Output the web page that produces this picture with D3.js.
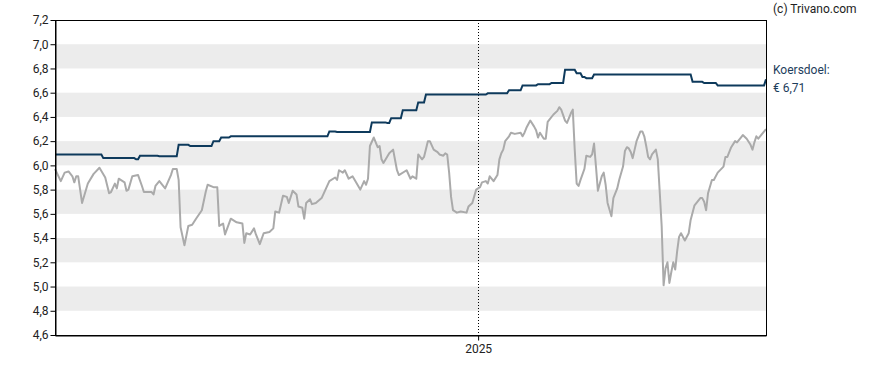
<!DOCTYPE html>
<html>
<head>
<meta charset="utf-8">
<script src="https://cdn.jsdelivr.net/npm/d3@7"></script>
<style>
  body { margin: 0; background: #fff; }
  text { font-family: Roboto, "Liberation Sans", Arial, sans-serif; }
</style>
</head>
<body>
<div id="chart"></div>
<script>
// Koers (grey line)
var priceDates = [
  "2024-05-27","2024-05-30","2024-06-01","2024-06-03","2024-06-05","2024-06-06","2024-06-07","2024-06-08",
  "2024-06-10","2024-06-13","2024-06-16","2024-06-19","2024-06-22","2024-06-24","2024-06-25","2024-06-27",
  "2024-06-28","2024-06-29","2024-07-02","2024-07-03","2024-07-04","2024-07-06","2024-07-09","2024-07-11",
  "2024-07-12","2024-07-16","2024-07-17","2024-07-18","2024-07-20","2024-07-23","2024-07-26","2024-07-27",
  "2024-07-29","2024-07-30","2024-07-31","2024-08-02","2024-08-04","2024-08-06","2024-08-08","2024-08-11",
  "2024-08-13","2024-08-14","2024-08-17","2024-08-19","2024-08-20","2024-08-22","2024-08-23","2024-08-26",
  "2024-08-28","2024-08-29","2024-09-01","2024-09-02","2024-09-03","2024-09-05","2024-09-07","2024-09-08",
  "2024-09-10","2024-09-12","2024-09-15","2024-09-17","2024-09-18","2024-09-20","2024-09-22","2024-09-24",
  "2024-09-25","2024-09-27","2024-09-29","2024-09-30","2024-10-02","2024-10-03","2024-10-04","2024-10-06",
  "2024-10-07","2024-10-09","2024-10-12","2024-10-14","2024-10-16","2024-10-19","2024-10-20","2024-10-21",
  "2024-10-23","2024-10-24","2024-10-26","2024-10-28","2024-11-01","2024-11-03","2024-11-04","2024-11-05",
  "2024-11-06","2024-11-08","2024-11-10","2024-11-11","2024-11-12","2024-11-13","2024-11-16","2024-11-18",
  "2024-11-20","2024-11-21","2024-11-25","2024-11-27","2024-11-28","2024-11-30","2024-12-01","2024-12-03",
  "2024-12-04","2024-12-06","2024-12-07","2024-12-09","2024-12-11","2024-12-12","2024-12-14","2024-12-15",
  "2024-12-16","2024-12-17","2024-12-18","2024-12-19","2024-12-20","2024-12-21","2024-12-23","2024-12-26",
  "2024-12-27","2024-12-29","2024-12-31","2025-01-02","2025-01-03","2025-01-05","2025-01-06","2025-01-07",
  "2025-01-09","2025-01-11","2025-01-12","2025-01-13","2025-01-14","2025-01-15","2025-01-17","2025-01-18",
  "2025-01-20","2025-01-23","2025-01-24","2025-01-25","2025-01-26","2025-01-28","2025-01-30","2025-01-31",
  "2025-02-01","2025-02-02","2025-02-04","2025-02-05","2025-02-06","2025-02-07","2025-02-09","2025-02-11",
  "2025-02-12","2025-02-13","2025-02-15","2025-02-16","2025-02-18","2025-02-19","2025-02-20","2025-02-21",
  "2025-02-22","2025-02-23","2025-02-25","2025-02-26","2025-02-28","2025-03-01","2025-03-02","2025-03-03",
  "2025-03-04","2025-03-06","2025-03-07","2025-03-08","2025-03-09","2025-03-11","2025-03-12","2025-03-14",
  "2025-03-15","2025-03-17","2025-03-18","2025-03-19","2025-03-20","2025-03-21","2025-03-22","2025-03-23",
  "2025-03-24","2025-03-26","2025-03-27","2025-03-28","2025-03-29","2025-03-30","2025-03-31","2025-04-01",
  "2025-04-03","2025-04-04","2025-04-05","2025-04-06","2025-04-07","2025-04-08","2025-04-09","2025-04-10",
  "2025-04-11","2025-04-12","2025-04-13","2025-04-14","2025-04-15","2025-04-16","2025-04-18","2025-04-20",
  "2025-04-21","2025-04-23","2025-04-26","2025-04-27","2025-04-28","2025-04-29","2025-04-30","2025-05-02",
  "2025-05-03","2025-05-05","2025-05-08","2025-05-09","2025-05-10","2025-05-12","2025-05-14","2025-05-15",
  "2025-05-17","2025-05-18","2025-05-20","2025-05-22","2025-05-23","2025-05-24","2025-05-25","2025-05-26",
  "2025-05-28","2025-05-30"
];
var priceValues = [
  5.97,5.87,5.94,5.95,5.91,5.86,5.91,5.91,
  5.69,5.85,5.93,5.98,5.90,5.77,5.78,5.85,
  5.81,5.89,5.86,5.79,5.80,5.91,5.92,5.83,
  5.78,5.78,5.76,5.83,5.87,5.81,5.92,5.97,
  5.97,5.88,5.49,5.34,5.50,5.51,5.56,5.63,
  5.78,5.84,5.82,5.82,5.50,5.52,5.43,5.56,
  5.54,5.53,5.52,5.36,5.44,5.43,5.48,5.43,
  5.35,5.44,5.45,5.48,5.62,5.61,5.75,5.74,
  5.69,5.79,5.76,5.66,5.65,5.56,5.69,5.72,
  5.68,5.69,5.73,5.80,5.87,5.90,5.88,5.96,
  5.94,5.96,5.89,5.91,5.80,5.87,5.84,5.89,
  6.16,6.23,6.15,6.16,6.05,6.02,6.10,6.13,
  5.96,5.92,5.96,5.89,5.91,5.89,6.09,6.05,
  6.07,6.20,6.20,6.13,6.11,6.09,6.08,6.10,
  6.09,5.94,5.74,5.63,5.62,5.61,5.62,5.61,
  5.66,5.69,5.80,5.82,5.86,5.87,5.85,5.91,
  5.87,5.92,6.05,6.10,6.13,6.20,6.24,6.27,
  6.26,6.27,6.24,6.27,6.31,6.37,6.32,6.29,
  6.23,6.27,6.22,6.22,6.36,6.38,6.42,6.45,
  6.48,6.46,6.37,6.35,6.43,6.46,6.13,5.85,
  5.83,5.88,5.97,6.08,6.07,6.09,6.18,5.99,
  5.79,5.91,5.94,5.84,5.69,5.58,5.73,5.81,
  5.88,5.99,6.12,6.15,6.14,6.11,6.06,6.13,
  6.20,6.28,6.28,6.24,6.16,6.07,6.05,6.09,
  6.13,6.05,5.78,5.50,5.01,5.15,5.20,5.03,
  5.12,5.20,5.14,5.29,5.41,5.44,5.38,5.44,
  5.55,5.67,5.73,5.73,5.70,5.63,5.77,5.88,
  5.88,5.94,5.99,6.07,6.07,6.15,6.20,6.19,
  6.23,6.25,6.22,6.17,6.13,6.19,6.24,6.22,
  6.26,6.30
];

// Koersdoel (blue line): date of each change and new level
var targetDates = [
  "2024-05-27","2024-06-21","2024-07-08","2024-07-10","2024-07-20","2024-07-30","2024-08-05","2024-08-17",
  "2024-08-21","2024-08-26","2024-10-16","2024-10-20","2024-11-07","2024-11-15","2024-11-17","2024-11-23",
  "2024-12-01","2024-12-05","2025-01-06","2025-01-17","2025-01-24","2025-02-01","2025-02-08","2025-02-15",
  "2025-02-21","2025-02-24","2025-02-26","2025-03-02","2025-04-22","2025-04-28","2025-05-05","2025-05-30"
];
var targetValues = [
  6.09,6.06,6.05,6.08,6.075,6.17,6.16,6.20,
  6.23,6.24,6.28,6.275,6.355,6.35,6.39,6.455,
  6.52,6.585,6.595,6.62,6.66,6.67,6.68,6.79,
  6.76,6.73,6.72,6.75,6.69,6.68,6.66,6.71
];

// Axis values and labels
var yTicks = [4.6, 4.8, 5.0, 5.2, 5.4, 5.6, 5.8, 6.0, 6.2, 6.4, 6.6, 6.8, 7.0, 7.2];
var xTickDates = ["2025-01-01"];
var xTickLabels = ["2025"];
var periodStart = "2024-05-27";
var periodEnd = "2025-05-30";
var copyrightText = "(c) Trivano.com";
var targetLabel = "Koersdoel:";

// SVG area and margins
var svgWidth = 888;
var svgHeight = 370;
var chartMargin = { top: 20, right: 122, bottom: 35, left: 55 };
var chartWidth = svgWidth - chartMargin.left - chartMargin.right;
var chartHeight = svgHeight - chartMargin.top - chartMargin.bottom;

var parseDate = d3.timeParse("%Y-%m-%d");
var nl = d3.formatLocale({ decimal: ",", thousands: ".", grouping: [3], currency: ["€ ", ""] });
var fmtTick = nl.format(".1f");

var svg = d3.select("#chart")
    .append("svg")
    .attr("width", svgWidth)
    .attr("height", svgHeight);

var chartGroup = svg.append("g")
    .attr("transform", `translate(${chartMargin.left}, ${chartMargin.top})`);

var xTimeScale = d3.scaleTime()
    .domain([parseDate(periodStart), parseDate(periodEnd)])
    .range([0, chartWidth]);

var yLinearScale = d3.scaleLinear()
    .domain([yTicks[0], yTicks[yTicks.length - 1]])
    .range([chartHeight, 0]);

// Alternating grey bands
var bands = yTicks.filter((t, i) => i % 2 == 1 && i < yTicks.length - 1)
    .map(t => [t, t + 0.2]);

chartGroup.selectAll("rect.band")
    .data(bands)
    .enter()
    .append("rect")
    .attr("class", "band")
    .attr("x", 0)
    .attr("width", chartWidth)
    .attr("y", d => yLinearScale(d[1]))
    .attr("height", d => yLinearScale(d[0]) - yLinearScale(d[1]))
    .attr("fill", "#ececec");

// Year divider (dotted)
chartGroup.selectAll("line.year")
    .data(xTickDates)
    .enter()
    .append("line")
    .attr("class", "year")
    .attr("x1", d => Math.round(xTimeScale(parseDate(d))) + 0.5)
    .attr("x2", d => Math.round(xTimeScale(parseDate(d))) + 0.5)
    .attr("y1", 0)
    .attr("y2", chartHeight)
    .attr("stroke", "#000")
    .attr("stroke-width", 1)
    .attr("stroke-dasharray", "1,2");

// Price line
var priceData = priceDates.map((d, i) => ({ date: parseDate(d), value: priceValues[i] }));
var priceLine = d3.line()
    .x(d => xTimeScale(d.date))
    .y(d => yLinearScale(d.value));

chartGroup.append("path")
    .datum(priceData)
    .attr("d", priceLine)
    .attr("fill", "none")
    .attr("stroke", "#aaaaaa")
    .attr("stroke-width", 2)
    .attr("stroke-linejoin", "round");

// Target line: old level holds until the day before each change
var targetData = [];
targetDates.forEach(function(d, i) {
    var date = parseDate(d);
    if (i > 0) {
        targetData.push({ date: d3.timeDay.offset(date, -1), value: targetValues[i - 1] });
    }
    targetData.push({ date: date, value: targetValues[i] });
});

var targetLine = d3.line()
    .x(d => xTimeScale(d.date))
    .y(d => yLinearScale(d.value));

chartGroup.append("path")
    .datum(targetData)
    .attr("d", targetLine)
    .attr("fill", "none")
    .attr("stroke", "#0e3a5c")
    .attr("stroke-width", 2);

// Frame
chartGroup.append("rect")
    .attr("x", 0.5)
    .attr("y", 0.5)
    .attr("width", chartWidth)
    .attr("height", chartHeight)
    .attr("fill", "none")
    .attr("stroke", "#000")
    .attr("stroke-width", 1);

// Left axis
var leftAxis = d3.axisLeft(yLinearScale)
    .tickValues(yTicks)
    .tickFormat(fmtTick)
    .tickSize(5)
    .tickSizeOuter(0)
    .tickPadding(2);

var yAxisGroup = chartGroup.append("g")
    .attr("transform", "translate(0.5, 0)")
    .call(leftAxis);
yAxisGroup.select(".domain").attr("stroke", "#000");
yAxisGroup.selectAll("text")
    .attr("font-size", "12px")
    .attr("fill", "#222")
    .attr("font-family", "Roboto, sans-serif");

// Bottom axis
var bottomAxis = d3.axisBottom(xTimeScale)
    .tickValues(xTickDates.map(parseDate))
    .tickFormat((d, i) => xTickLabels[i])
    .tickSize(5)
    .tickSizeOuter(0)
    .tickPadding(4);

var xAxisGroup = chartGroup.append("g")
    .attr("transform", `translate(0, ${chartHeight + 0.5})`)
    .call(bottomAxis);
xAxisGroup.select(".domain").attr("stroke", "#000");
xAxisGroup.selectAll("text")
    .attr("font-size", "12px")
    .attr("fill", "#222")
    .attr("font-family", "Roboto, sans-serif");

// Side texts
svg.append("text")
    .attr("x", chartMargin.left + chartWidth + 7)
    .attr("y", 13)
    .attr("font-size", "12px")
    .attr("fill", "#222")
    .text(copyrightText);

var lastTarget = targetValues[targetValues.length - 1];

svg.append("text")
    .attr("x", chartMargin.left + chartWidth + 7)
    .attr("y", chartMargin.top + yLinearScale(lastTarget) - 5)
    .attr("font-size", "12px")
    .attr("fill", "#1d3d5c")
    .text(targetLabel);

svg.append("text")
    .attr("x", chartMargin.left + chartWidth + 7)
    .attr("y", chartMargin.top + yLinearScale(lastTarget) + 13)
    .attr("font-size", "12px")
    .attr("fill", "#1d3d5c")
    .text(nl.format("$.2f")(lastTarget));
</script>
</body>
</html>
